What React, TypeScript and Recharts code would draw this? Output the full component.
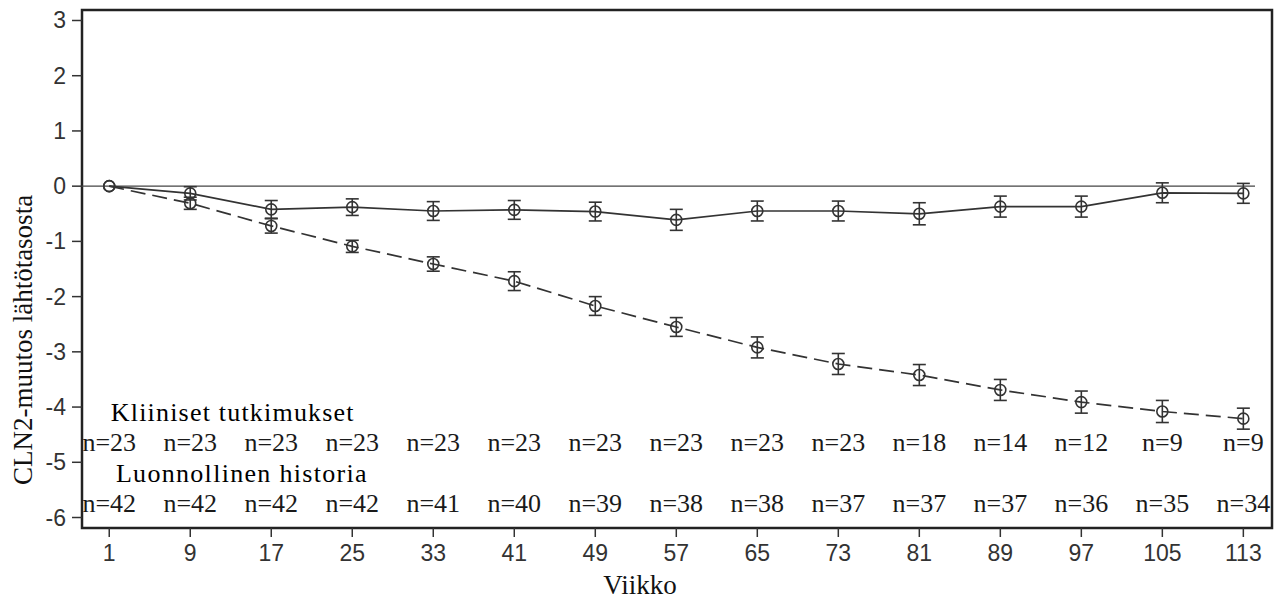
import {
  LineChart,
  Line,
  XAxis,
  YAxis,
  ErrorBar,
  ReferenceLine,
  ReferenceArea,
  ReferenceDot,
} from "recharts";

// weeks on the x axis
const weeks = [1, 9, 17, 25, 33, 41, 49, 57, 65, 73, 81, 89, 97, 105, 113];

// Kliiniset tutkimukset (solid line)
const trialMean = [0, -0.13, -0.42, -0.38, -0.45, -0.43, -0.46, -0.61, -0.45, -0.45, -0.5, -0.37, -0.37, -0.12, -0.13];
const trialErr = [null, 0.12, 0.16, 0.15, 0.17, 0.17, 0.17, 0.19, 0.18, 0.18, 0.2, 0.19, 0.19, 0.18, 0.18];

// Luonnollinen historia (dashed line)
const naturalMean = [0, -0.31, -0.72, -1.09, -1.41, -1.72, -2.17, -2.55, -2.92, -3.22, -3.42, -3.69, -3.91, -4.08, -4.21];
const naturalErr = [null, 0.11, 0.13, 0.11, 0.13, 0.17, 0.17, 0.17, 0.19, 0.19, 0.19, 0.19, 0.2, 0.2, 0.19];

const trialN = [23, 23, 23, 23, 23, 23, 23, 23, 23, 23, 18, 14, 12, 9, 9];
const naturalN = [42, 42, 42, 42, 41, 40, 39, 38, 38, 37, 37, 37, 36, 35, 34];

const yTicks = [-6, -5, -4, -3, -2, -1, 0, 1, 2, 3];

const X_DOMAIN: [number, number] = [-1.69, 115.83];
const Y_DOMAIN: [number, number] = [-6.19, 3.19];

const data = weeks.map((w, i) => ({
  week: w,
  trial: trialMean[i],
  trialErr: trialErr[i],
  natural: naturalMean[i],
  naturalErr: naturalErr[i],
}));

const serif = "'Liberation Serif', 'Times New Roman', serif";
const sans = "'Liberation Sans', Arial, sans-serif";
const ink = "#333";

const dotStyle = {
  r: 5.5,
  fill: "none",
  stroke: ink,
  strokeWidth: 1.6,
  strokeDasharray: "none",
};

// text drawn at a data point (ReferenceDot shape)
function textShape(value: string, spacing = 0, color = "#1a1a1a") {
  return (p: any) => (
    <text
      x={p.cx}
      y={p.cy}
      textAnchor="middle"
      dominantBaseline="central"
      fontFamily={serif}
      fontSize={26}
      letterSpacing={spacing}
      fill={color}
    >
      {value}
    </text>
  );
}

// axis tick labels, drawn at the position Recharts gives
function tickLabel(side: "x" | "y") {
  return (p: any) => (
    <text
      x={p.x}
      y={p.y}
      textAnchor={side === "x" ? "middle" : "end"}
      dominantBaseline={side === "x" ? "hanging" : "central"}
      fontFamily={sans}
      fontSize={23}
      fill={ink}
    >
      {p.payload.value}
    </text>
  );
}

export default function App() {
  return (
    <div style={{ position: "absolute", left: 0, top: 0, background: "#fff" }}>
      <LineChart
        width={1279}
        height={599}
        data={data}
        margin={{ top: 10, right: 7, left: 0, bottom: 0 }}
      >
        <XAxis
          dataKey="week"
          type="number"
          domain={X_DOMAIN}
          allowDataOverflow
          ticks={weeks}
          height={71}
          tickSize={9}
          tickMargin={7}
          axisLine={false}
          tickLine={{ stroke: ink, strokeWidth: 1.5 }}
          tick={tickLabel("x")}
          label={{
            content: () => (
              <text
                x={640}
                y={585}
                textAnchor="middle"
                dominantBaseline="central"
                fontFamily={serif}
                fontSize={27}
                fill="#111"
              >
                Viikko
              </text>
            ),
          }}
        />
        <YAxis
          type="number"
          domain={Y_DOMAIN}
          allowDataOverflow
          ticks={yTicks}
          width={82}
          tickSize={10}
          tickMargin={6}
          axisLine={false}
          tickLine={{ stroke: ink, strokeWidth: 1.5 }}
          tick={tickLabel("y")}
          label={{
            content: () => (
              <text
                x={23}
                y={340}
                transform="rotate(-90 23 340)"
                textAnchor="middle"
                dominantBaseline="central"
                fontFamily={serif}
                fontSize={27}
                fill="#111"
              >
                CLN2-muutos lähtötasosta
              </text>
            ),
          }}
        />
        <ReferenceArea
          x1={X_DOMAIN[0]}
          x2={X_DOMAIN[1]}
          y1={Y_DOMAIN[0]}
          y2={Y_DOMAIN[1]}
          fill="none"
          fillOpacity={0}
          stroke="#222"
          strokeWidth={2.5}
        />
        <ReferenceLine
          segment={[
            { x: X_DOMAIN[0], y: 0 },
            { x: 114.15, y: 0 },
          ]}
          stroke="#444"
          strokeWidth={1.2}
        />
        <Line
          dataKey="natural"
          stroke={ink}
          strokeWidth={1.7}
          strokeDasharray="15 7"
          dot={dotStyle}
          activeDot={false}
          isAnimationActive={false}
        >
          <ErrorBar dataKey="naturalErr" width={6.5} stroke={ink} strokeWidth={1.6} />
        </Line>
        <Line
          dataKey="trial"
          stroke={ink}
          strokeWidth={1.7}
          dot={dotStyle}
          activeDot={false}
          isAnimationActive={false}
        >
          <ErrorBar dataKey="trialErr" width={6.5} stroke={ink} strokeWidth={1.6} />
        </Line>

        <ReferenceDot x={13.2} y={-4.09} r={0} shape={textShape("Kliiniset tutkimukset", 1.2, "#000")} />
        <ReferenceDot x={14.1} y={-5.21} r={0} shape={textShape("Luonnollinen historia", 1.3, "#000")} />
        {weeks.map((w, i) => (
          <ReferenceDot key={"t" + w} x={w} y={-4.65} r={0} shape={textShape(`n=${trialN[i]}`)} />
        ))}
        {weeks.map((w, i) => (
          <ReferenceDot key={"n" + w} x={w} y={-5.75} r={0} shape={textShape(`n=${naturalN[i]}`)} />
        ))}
      </LineChart>
    </div>
  );
}
